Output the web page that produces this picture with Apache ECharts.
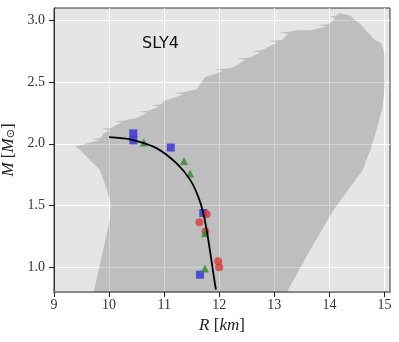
<!DOCTYPE html>
<html>
<head>
<meta charset="utf-8">
<script src="https://cdn.jsdelivr.net/npm/echarts@6/dist/echarts.min.js"></script>
<style>
  html, body { margin: 0; padding: 0; background: #fff; }
  #chart { width: 399px; height: 342px; }
</style>
</head>
<body>
<div id="chart"></div>
<script>
// tick labels
const xTicks = [9, 10, 11, 12, 13, 14, 15]
const yTicks = [1.0, 1.5, 2.0, 2.5, 3.0]

// grey allowed region (R, M), traced clockwise from bottom-left;
// the top edge has thin left-pointing spikes
const regionR = [9.72, 10.01, 10.03, 9.96, 9.83, 9.65, 9.50, 9.38,
  9.50, 9.65, 9.83, 9.68, 9.85, 9.89, 10.01, 9.86, 10.03, 10.16, 10.25, 10.10, 10.27,
  10.38, 10.50, 10.69, 10.54, 10.71, 10.78, 10.92, 10.77, 10.94, 11.01, 11.10,
  11.34, 11.19, 11.36, 11.47, 11.59, 11.65, 11.74, 12.07, 11.92, 12.09, 12.16,
  12.25, 12.47, 12.32, 12.49, 12.56, 12.74, 12.59, 12.76, 12.83, 13.04, 12.89, 13.06,
  13.14, 13.25, 13.10, 13.27, 13.38, 13.65, 13.95, 13.80, 13.97, 14.05, 14.10, 13.98,
  14.12, 14.16, 14.19,
  14.37, 14.56, 14.80, 14.95, 15.00, 15.00, 14.96, 14.79, 14.61, 14.07, 13.65, 13.23]
const regionM = [0.80, 1.38, 1.51, 1.63, 1.79, 1.87, 1.94, 1.98,
  1.99, 2.01, 2.03, 2.042, 2.048, 2.08, 2.11, 2.122, 2.128, 2.16, 2.17, 2.182, 2.188,
  2.20, 2.21, 2.25, 2.262, 2.268, 2.28, 2.30, 2.312, 2.318, 2.35, 2.36,
  2.40, 2.412, 2.418, 2.43, 2.44, 2.48, 2.54, 2.59, 2.602, 2.608, 2.61,
  2.62, 2.68, 2.692, 2.698, 2.70, 2.74, 2.752, 2.758, 2.77, 2.82, 2.832, 2.838,
  2.84, 2.89, 2.902, 2.908, 2.92, 2.92, 2.95, 2.962, 2.968, 2.99, 3.02, 3.032,
  3.038, 3.05, 3.06,
  3.04, 2.97, 2.85, 2.81, 2.72, 2.45, 2.28, 2.01, 1.79, 1.46, 1.14, 0.80]

// SLY4 mass-radius curve
const curveR = [10.00, 10.22, 10.44, 10.86, 11.23, 11.47, 11.62, 11.71, 11.78, 11.84, 11.91, 11.94]
const curveM = [2.054, 2.046, 2.03, 1.965, 1.84, 1.71, 1.57, 1.44, 1.28, 1.11, 0.90, 0.82]

// markers
const blueR = [10.44, 10.44, 11.12, 11.71, 11.65]
const blueM = [2.085, 2.028, 1.97, 1.44, 0.94]
const redR = [11.77, 11.64, 11.75, 11.98, 12.00]
const redM = [1.43, 1.365, 1.29, 1.05, 1.00]
const greenR = [10.63, 11.36, 11.47, 11.74, 11.74]
const greenM = [2.01, 1.86, 1.76, 1.276, 0.99]

const zip = (a, b) => a.map((v, i) => [v, b[i]])

const serif = 'Liberation Serif'
const chart = echarts.init(document.getElementById('chart'))

chart.setOption({
  animation: false,
  title: {
    text: 'SLY4',
    left: 137,
    top: 31,
    textStyle: { fontFamily: 'DejaVu Sans', fontSize: 16, fontWeight: 'normal', color: '#111' }
  },
  grid: {
    left: 54, right: 9, top: 8, bottom: 50,
    outerBoundsMode: 'none',
    containLabel: false,
    show: true,
    backgroundColor: '#e5e5e5',
    borderColor: '#333',
    borderWidth: 1
  },
  xAxis: {
    type: 'value',
    min: 9, max: 15.1,
    name: '{i|R} [{i|km}]',
    nameLocation: 'middle',
    nameGap: 20,
    nameTextStyle: {
      fontFamily: serif, fontSize: 17, color: '#222',
      rich: { i: { fontFamily: serif, fontSize: 17, fontStyle: 'italic', color: '#222' } }
    },
    axisLine: { show: true, onZero: false, lineStyle: { color: '#888', width: 2 } },
    axisTick: { show: true, length: 5, customValues: xTicks, lineStyle: { color: '#222' } },
    axisLabel: { customValues: xTicks, margin: 6, fontFamily: serif, fontSize: 14, color: '#333' },
    splitLine: { show: true, lineStyle: { color: '#fff', width: 1 } }
  },
  yAxis: {
    type: 'value',
    min: 0.8, max: 3.1,
    name: '{i|M} [{i|M}{s|⊙}]',
    nameLocation: 'middle',
    nameRotate: 90,
    nameGap: 26,
    nameTextStyle: {
      fontFamily: serif, fontSize: 17, color: '#222',
      rich: {
        i: { fontFamily: serif, fontSize: 17, fontStyle: 'italic', color: '#222' },
        s: { fontFamily: 'DejaVu Sans', fontSize: 11, color: '#222', padding: [6, 0, 0, 0] }
      }
    },
    axisLine: { show: true, onZero: false, lineStyle: { color: '#333', width: 1 } },
    axisTick: { show: true, length: 5, customValues: yTicks, lineStyle: { color: '#222' } },
    axisLabel: {
      customValues: yTicks, margin: 9, fontFamily: serif, fontSize: 14, color: '#333',
      formatter: v => v.toFixed(1)
    },
    splitLine: { show: true, lineStyle: { color: '#fff', width: 1 } }
  },
  series: [
    {
      type: 'custom',
      clip: true,
      silent: true,
      z: 1,
      data: [0],
      renderItem: (params, api) => ({
        type: 'polygon',
        shape: { points: zip(regionR, regionM).map(p => api.coord(p)) },
        style: { fill: 'rgba(0,0,0,0.17)' }
      })
    },
    {
      type: 'scatter',
      symbol: 'rect',
      symbolSize: 8,
      z: 3,
      itemStyle: { color: '#3030d8' },
      data: zip(blueR, blueM)
    },
    {
      type: 'scatter',
      symbol: 'circle',
      symbolSize: 8,
      z: 3,
      itemStyle: { color: '#d83a3a' },
      data: zip(redR, redM)
    },
    {
      type: 'scatter',
      symbol: 'triangle',
      symbolSize: 8,
      z: 3,
      itemStyle: { color: '#2e8a2e' },
      data: zip(greenR, greenM)
    },
    {
      type: 'line',
      smooth: 0.4,
      showSymbol: false,
      z: 4,
      lineStyle: { color: '#000', width: 1.8 },
      data: zip(curveR, curveM)
    }
  ]
})
</script>
</body>
</html>
